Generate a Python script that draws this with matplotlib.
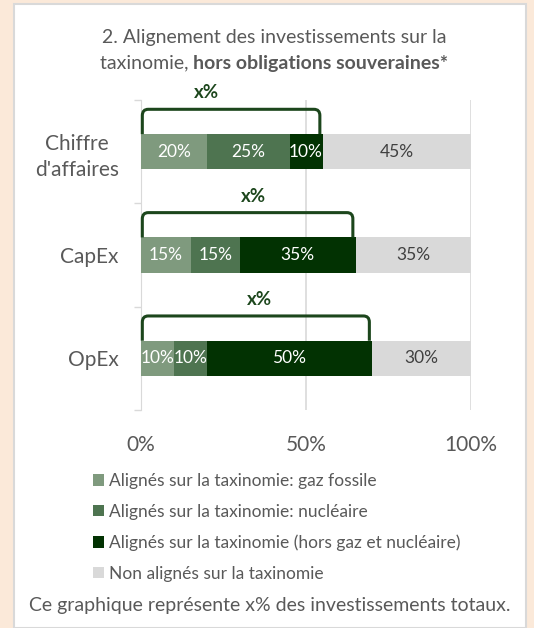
import matplotlib.pyplot as plt
from matplotlib.patches import Rectangle, PathPatch
from matplotlib.path import Path

# === Data ===
categories = ["Chiffre\nd'affaires", "CapEx", "OpEx"]
gaz_fossile = [20, 15, 10]
nucleaire = [25, 15, 10]
hors_gaz_nucl = [10, 35, 50]
non_alignes = [45, 35, 30]
series_labels = ["Alignés sur la taxinomie: gaz fossile",
                 "Alignés sur la taxinomie: nucléaire",
                 "Alignés sur la taxinomie (hors gaz et nucléaire)",
                 "Non alignés sur la taxinomie"]
bracket_label = "x%"
bracket_label_x = [20, 34, 36]
x_ticks = [0, 50, 100]

colors = ["#7F9A7E", "#4E7450", "#023202", "#D9D9D9"]
text_colors = ["white", "white", "white", "#404040"]
dark_green = "#1C461C"
grey_text = "#595959"

plt.rcParams['font.family'] = ['Lato', 'DejaVu Sans']

W, H = 534, 628
fig = plt.figure(figsize=(W / 100, H / 100), dpi=100)
fig.patch.set_facecolor("#FBE9D9")

# white panel
fig.patches.append(Rectangle((14 / W, 0), 512 / W, 624 / H, transform=fig.transFigure,
                             facecolor="white", edgecolor="#D9D9D9", linewidth=1.5,
                             zorder=-1))

ax = fig.add_axes([141 / W, 1 - 410 / H, 330 / W, 310 / H])
ax.set_zorder(2)
ax.set_facecolor("none")

series = [gaz_fossile, nucleaire, hors_gaz_nucl, non_alignes]
ypos = list(range(len(categories)))
bar_h = 0.34
left = [0] * len(categories)
for vals, col, tcol, lab in zip(series, colors, text_colors, series_labels):
    ax.barh(ypos, vals, left=left, height=bar_h, color=col, label=lab, zorder=3)
    for y, v, l in zip(ypos, vals, left):
        ax.text(l + v / 2, y, f"{v}%", ha="center", va="center", color=tcol,
                fontsize=12.5, zorder=4)
    left = [a + b for a, b in zip(left, vals)]

# brackets over the aligned part
for y, a, b, c, tx in zip(ypos, gaz_fossile, nucleaire, hors_gaz_nucl, bracket_label_x):
    total = a + b + c
    x0, x1 = 0.4, total - 0.8
    yb, yt = y - bar_h / 2, y - 0.41
    rx, ry = 1.8, 0.06
    verts = [(x0, yb), (x0, yt + ry), (x0, yt), (x0 + rx, yt),
             (x1 - rx, yt), (x1, yt), (x1, yt + ry), (x1, yb)]
    codes = [Path.MOVETO, Path.LINETO, Path.CURVE3, Path.CURVE3,
             Path.LINETO, Path.CURVE3, Path.CURVE3, Path.LINETO]
    ax.add_patch(PathPatch(Path(verts, codes), facecolor="none", edgecolor=dark_green,
                           linewidth=2.2, zorder=5, clip_on=False))
    ax.text(tx, y - 0.57, bracket_label, ha="center", va="center", color=dark_green,
            fontsize=13.5, fontweight="bold", zorder=5)

ax.set_xlim(0, 100)
ax.set_ylim(len(categories) - 0.5, -0.5)
ax.set_xticks(x_ticks)
ax.set_xticklabels([f"{t}%" for t in x_ticks], fontsize=15, color=grey_text)
ax.tick_params(axis="x", length=0, pad=18)
ax.set_yticks(ypos)
ax.set_yticklabels(categories, fontsize=15, color=grey_text, linespacing=1.4,
                   multialignment="center")
ax.set_yticks([-0.5, 0.5, 1.5, 2.5], minor=True)
ax.tick_params(axis="y", which="major", length=0, pad=16)
ax.tick_params(axis="y", which="minor", length=5, color="#D9D9D9", width=1)
for s in ["top", "right", "bottom"]:
    ax.spines[s].set_visible(False)
ax.spines["left"].set_color("#D9D9D9")
ax.xaxis.grid(True, color="#D9D9D9", linewidth=1.2, zorder=0)
ax.set_axisbelow(True)

# title, second line partly bold
fig.text(274 / W, 1 - 38 / H, "2. Alignement des investissements sur la",
         ha="center", va="center", fontsize=14, color=grey_text)
t1 = fig.text(0, 1 - 63 / H, "taxinomie, ", ha="left", va="center",
              fontsize=14, color=grey_text)
t2 = fig.text(0, 1 - 63 / H, "hors obligations souveraines*", ha="left", va="center",
              fontsize=14, color=grey_text, fontweight="bold")
fig.canvas.draw()
r = fig.canvas.get_renderer()
w1 = t1.get_window_extent(r).width
w2 = t2.get_window_extent(r).width
start = 274 - (w1 + w2) / 2
t1.set_x(start / W)
t2.set_x((start + w1) / W)

handles, labels = ax.get_legend_handles_labels()
fig.legend(handles, labels, loc="upper left", bbox_to_anchor=(86 / W, 1 - 466 / H),
           frameon=False, fontsize=12.5, labelcolor=grey_text, handlelength=0.65,
           handleheight=0.65, handletextpad=0.25, labelspacing=0.85, borderaxespad=0)

fig.text(270 / W, 1 - 605 / H, "Ce graphique représente x% des investissements totaux.",
         ha="center", va="center", fontsize=14, color=grey_text)

fig.savefig("out.png", dpi=100, facecolor=fig.get_facecolor())
